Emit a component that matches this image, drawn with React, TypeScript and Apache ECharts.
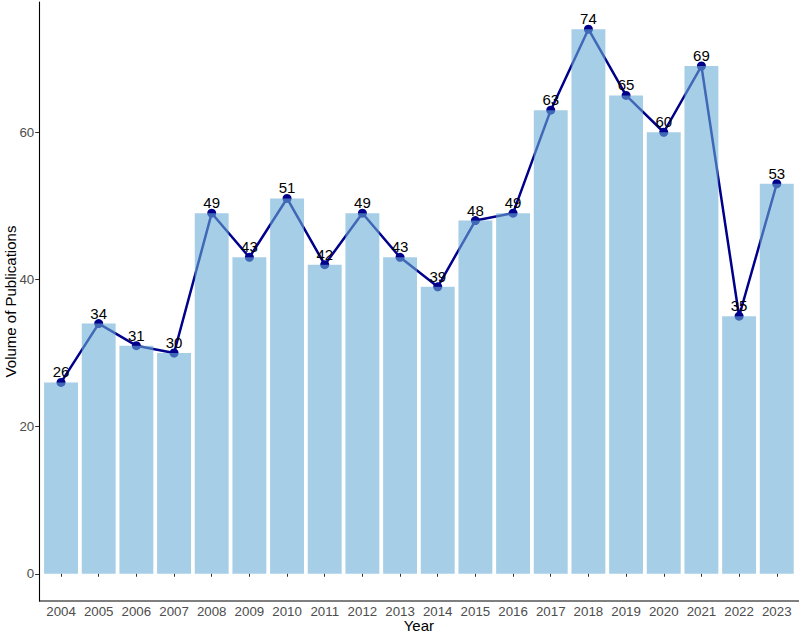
import React, { useEffect, useRef } from "react";
import * as echarts from "echarts";

const years = ["2004","2005","2006","2007","2008","2009","2010","2011","2012","2013","2014","2015","2016","2017","2018","2019","2020","2021","2022","2023"];
const publications = [26,34,31,30,49,43,51,42,49,43,39,48,49,63,74,65,60,69,35,53];
const yTicks = [0,20,40,60];

const FONT = "'Liberation Sans', Arial, Helvetica, sans-serif";

export default function App() {
  const ref = useRef<HTMLDivElement>(null);
  useEffect(() => {
    if (!ref.current) return;
    const chart = echarts.init(ref.current, null, { renderer: "svg" });
    chart.setOption({
      animation: false,
      textStyle: { fontFamily: FONT },
      grid: { left: 42.2, right: 4.4, top: 2, bottom: 33, containLabel: false, outerBoundsMode: "none" },
      xAxis: {
        type: "category",
        data: years,
        boundaryGap: true,
        axisLine: { show: false },
        axisTick: { show: true, alignWithLabel: true, interval: 0, length: 3, lineStyle: { color: "#333333", width: 1 } },
        axisLabel: { color: "#4d4d4d", fontSize: 13.3, margin: 4, interval: 0, fontFamily: FONT },
        name: "Year",
        nameLocation: "middle",
        nameGap: 17,
        nameMoveOverlap: false,
        nameTextStyle: { color: "#000", fontSize: 15, fontFamily: FONT },
        splitLine: { show: false },
      },
      yAxis: {
        type: "value",
        min: -3.7,
        max: 77.7,
        offset: 3,
        axisLine: { show: true, lineStyle: { color: "#000", width: 1.1 } },
        axisTick: { show: true, length: 4, customValues: yTicks, lineStyle: { color: "#333333", width: 1 } },
        axisLabel: { color: "#4d4d4d", fontSize: 13.3, margin: 5, customValues: yTicks, fontFamily: FONT },
        splitLine: { show: false },
        name: "Volume of Publications",
        nameLocation: "middle",
        nameGap: 21,
        nameMoveOverlap: false,
        nameTextStyle: { color: "#000", fontSize: 15, fontFamily: FONT },
      },
      graphic: [
        { type: "line", shape: { x1: 39, y1: 601, x2: 799, y2: 601 }, style: { stroke: "#000", lineWidth: 1.1 }, z: 10 },
      ],
      series: [
        {
          type: "line",
          data: publications,
          z: 2,
          symbol: "circle",
          symbolSize: 9,
          lineStyle: { color: "#00008b", width: 2.5 },
          itemStyle: { color: "#00008b" },
        },
        {
          type: "bar",
          data: publications,
          z: 3,
          barWidth: "90%",
          itemStyle: { color: "rgba(107,174,214,0.6)" },
          label: {
            show: true,
            position: "top",
            distance: 3,
            color: "#000",
            fontSize: 15,
            fontFamily: FONT,
          },
        },
      ],
    });
    return () => chart.dispose();
  }, []);
  return <div ref={ref} style={{ width: 800, height: 634, position: "absolute", left: 0, top: 0 }} />;
}
